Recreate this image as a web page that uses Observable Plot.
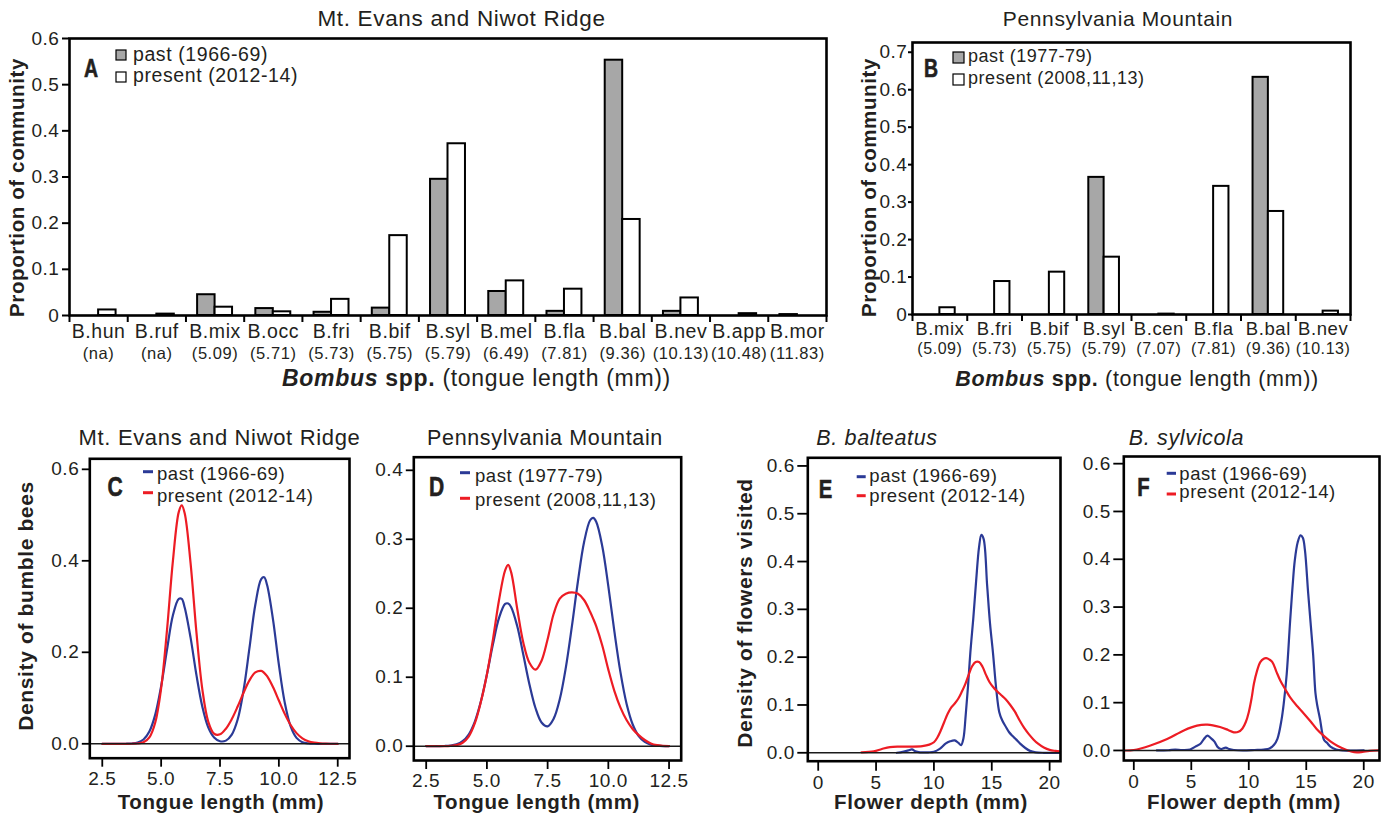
<!DOCTYPE html>
<html>
<head>
<meta charset="utf-8">
<script src="https://cdn.jsdelivr.net/npm/d3@7"></script>
<script src="https://cdn.jsdelivr.net/npm/@observablehq/plot@0.6"></script>
<style>
  html, body { margin: 0; padding: 0; background: #fff; }
  #wrap { position: relative; width: 1398px; height: 817px; overflow: hidden; background: #fff; }
</style>
</head>
<body>
<div id="wrap"></div>
<script>
// ---------------- DATA ----------------
// Panel A: Mt. Evans and Niwot Ridge
const catsA    = ["B.hun","B.ruf","B.mix","B.occ","B.fri","B.bif","B.syl","B.mel","B.fla","B.bal","B.nev","B.app","B.mor"];
const tongueA  = ["na","na","5.09","5.71","5.73","5.75","5.79","6.49","7.81","9.36","10.13","10.48","11.83"];
const pastA    = [0, 0, 0.045, 0.015, 0.007, 0.016, 0.295, 0.052, 0.009, 0.553, 0.009, 0, 0.002];
const presentA = [0.012, 0.003, 0.018, 0.008, 0.035, 0.173, 0.372, 0.075, 0.057, 0.208, 0.038, 0.004, 0];
const yTicksA  = [0, 0.1, 0.2, 0.3, 0.4, 0.5, 0.6];

// Panel B: Pennsylvania Mountain
const catsB    = ["B.mix","B.fri","B.bif","B.syl","B.cen","B.fla","B.bal","B.nev"];
const tongueB  = ["5.09","5.73","5.75","5.79","7.07","7.81","9.36","10.13"];
const pastB    = [0, 0, 0, 0.366, 0, 0, 0.633, 0];
const presentB = [0.018, 0.088, 0.113, 0.153, 0.001, 0.342, 0.275, 0.009];
const yTicksB  = [0, 0.1, 0.2, 0.3, 0.4, 0.5, 0.6, 0.7];

// Panels C and D: density of bumble bees vs tongue length (mm)
const tongueX  = [2.5,2.75,3,3.25,3.5,3.75,4,4.25,4.5,4.75,5,5.25,5.5,5.75,5.875,6,6.25,6.5,6.75,7,7.25,7.5,7.75,8,8.25,8.5,8.75,9,9.25,9.375,9.5,9.75,10,10.25,10.5,10.75,11,11.25,11.5,11.75,12,12.25,12.5];
const cPast    = [0,0,0,0,0.0001,0.0007,0.0027,0.0094,0.0268,0.0638,0.126,0.206,0.281,0.317,0.317,0.298,0.232,0.150,0.081,0.036,0.0137,0.0055,0.0069,0.020,0.053,0.117,0.209,0.304,0.360,0.364,0.347,0.272,0.173,0.090,0.038,0.013,0.0036,0.0008,0.0001,0,0,0,0];
const cPresent = [0,0,0,0,0,0.0001,0.0006,0.0033,0.0141,0.0467,0.1215,0.249,0.400,0.507,0.521,0.504,0.395,0.243,0.119,0.0486,0.022,0.0207,0.033,0.054,0.0814,0.1115,0.1385,0.156,0.1594,0.155,0.1477,0.124,0.0946,0.0654,0.041,0.0233,0.012,0.0056,0.0024,0.0009,0.0003,0.0001,0];
const dPast    = [0,0,0.0001,0.0003,0.0009,0.0027,0.0073,0.017,0.0354,0.0647,0.104,0.148,0.186,0.2062,0.207,0.2016,0.174,0.1325,0.090,0.0554,0.0345,0.0288,0.040,0.068,0.114,0.174,0.2395,0.2957,0.3276,0.331,0.3254,0.290,0.2318,0.166,0.107,0.0616,0.0319,0.0148,0.0062,0.0023,0.0008,0.0002,0.0001];
const dPresent = [0,0,0,0.0001,0.0005,0.0015,0.005,0.014,0.033,0.064,0.104,0.155,0.212,0.255,0.263,0.252,0.199,0.150,0.121,0.111,0.124,0.155,0.192,0.214,0.221,0.223,0.221,0.212,0.195,0.185,0.174,0.146,0.111,0.080,0.056,0.038,0.025,0.016,0.009,0.004,0.0015,0.0005,0.0002];
const tongueTicks = [2.5, 5, 7.5, 10, 12.5];

// Panel E: B. balteatus, density of flowers visited vs flower depth (mm)
const ePastX    = [6.8,7.3,7.8,8.1,8.4,8.8,9.5,10.0,10.5,11.0,11.4,11.8,12.1,12.35,12.55,12.75,12.95,13.15,13.4,13.65,13.9,14.1,14.3,14.6,14.85,15.1,15.4,15.65,15.9,16.2,16.5,16.8,17.1,17.5,17.9,18.3,18.8,19.5,20.9];
const ePastY    = [0,0.002,0.005,0.007,0.003,0.001,0.001,0.002,0.008,0.019,0.024,0.026,0.021,0.016,0.03,0.08,0.14,0.21,0.28,0.36,0.43,0.456,0.447,0.35,0.27,0.21,0.13,0.085,0.068,0.055,0.043,0.035,0.028,0.018,0.01,0.004,0.001,0,0];
const ePresentX = [3.74,4.8,5.5,6.2,7.0,8.0,9.0,9.6,10.0,10.3,10.6,10.9,11.2,11.5,11.8,12.1,12.4,12.7,13.0,13.3,13.6,13.9,14.2,14.5,14.8,15.1,15.4,15.8,16.2,16.6,17.0,17.4,17.8,18.2,18.6,19.0,19.5,20.0,20.5,20.9];
const ePresentY = [0.001,0.003,0.008,0.012,0.013,0.013,0.014,0.017,0.022,0.032,0.047,0.065,0.082,0.095,0.103,0.113,0.127,0.143,0.163,0.181,0.19,0.19,0.18,0.163,0.148,0.138,0.13,0.121,0.112,0.1,0.086,0.068,0.052,0.039,0.028,0.019,0.011,0.006,0.004,0.003];

// Panel F: B. sylvicola
const fPastX    = [2.0,3.0,3.6,4.2,4.9,5.35,5.8,6.1,6.4,6.7,7.0,7.3,7.6,8.0,8.3,8.7,9.5,10.5,11.3,11.8,12.2,12.5,12.84,13.05,13.3,13.6,13.8,14.0,14.25,14.5,14.7,14.88,15.17,15.4,15.6,15.8,15.95,16.2,16.4,16.55,16.8,17.1,17.6,18.2,20.0];
const fPastY    = [0,0.0005,0.002,0.001,0.002,0.008,0.014,0.024,0.031,0.026,0.019,0.007,0.003,0.006,0.003,0.001,0,0.001,0.002,0.004,0.012,0.025,0.063,0.1,0.16,0.272,0.34,0.397,0.435,0.45,0.445,0.42,0.328,0.26,0.2,0.12,0.095,0.065,0.035,0.022,0.016,0.008,0.002,0,0];
const fPresentX = [-0.85,0,1.45,2.9,4.35,5.5,6.4,7.5,8.2,8.7,9.1,9.45,9.75,10.0,10.25,10.45,10.7,11.0,11.3,11.52,11.8,12.05,12.4,12.75,13.2,13.6,14.2,14.8,15.4,15.9,16.5,17.1,17.7,18.3,18.9,19.4,19.9,20.5,21.3];
const fPresentY = [0,0.001,0.0105,0.024,0.042,0.052,0.054,0.049,0.043,0.038,0.039,0.046,0.06,0.08,0.11,0.14,0.165,0.185,0.192,0.193,0.19,0.185,0.165,0.146,0.127,0.111,0.093,0.077,0.06,0.045,0.031,0.019,0.01,0.003,-0.002,-0.004,-0.003,-0.001,0];
const depthTicks = [0, 5, 10, 15, 20];

// ---------------- STYLE ----------------
const FONT = '"Liberation Sans", Arial, Helvetica, sans-serif';
const INK = "#231f20";
const GRAY = "#a7a7a7";
const BLUE = "#2b3a96";
const RED = "#ed1c24";
const wrap = document.getElementById("wrap");

function place(node, left, top, w) {
  const d = document.createElement("div");
  d.style.cssText = `position:absolute;left:${left}px;top:${top}px;width:${w}px;`;
  d.appendChild(node);
  wrap.appendChild(d);
}

function barPanel(o) {
  const rows = o.cats.map((name, i) => ({i, name, tl: o.tongue[i], past: o.past[i], present: o.present[i]}));
  return Plot.plot({
    width: o.width, height: o.height,
    marginLeft: o.m[0], marginTop: o.m[1], marginRight: o.m[2], marginBottom: o.m[3],
    x: {domain: [0, o.cats.length]},
    y: {domain: [0, o.yMax]},
    style: {background: "transparent", fontFamily: FONT, fontSize: "19px", color: INK, letterSpacing: "0.03em", overflow: "visible"},
    marks: [
      Plot.rect(rows, {x1: d => d.i + o.slots[0], x2: d => d.i + o.slots[1], y1: 0, y2: "past", fill: GRAY, stroke: "#000", strokeWidth: 2}),
      Plot.rect(rows, {x1: d => d.i + o.slots[1], x2: d => d.i + o.slots[2], y1: 0, y2: "present", fill: "#fff", stroke: "#000", strokeWidth: 2}),
      Plot.frame({stroke: "#000", strokeWidth: 2.6}),
      Plot.axisY({ticks: o.yTicks, tickFormat: d => d === 0 ? "0" : d.toFixed(1), tickSize: o.ytick[0], tickPadding: o.ytick[1], stroke: "#000", strokeWidth: 2, label: null}),
      Plot.axisX({ticks: d3.range(o.cats.length + 1), tickFormat: () => "", tickSize: 7, stroke: "#000", strokeWidth: 2, label: null}),
      Plot.text(rows, {x: d => d.i + 0.5, text: "name", frameAnchor: "bottom", dy: o.labDy[0], fontSize: o.labSize[0], fill: INK}),
      Plot.text(rows, {x: d => d.i + 0.5, text: d => `(${d.tl})`, frameAnchor: "bottom", dy: o.labDy[1], fontSize: o.labSize[1], fill: INK})
    ]
  });
}

function densPanel(o) {
  const lines = o.series.map(s => Plot.line(s.x.map((x, i) => ({x, y: s.y[i]})),
    {x: "x", y: "y", stroke: s.color, strokeWidth: 2.2, curve: "catmull-rom"}));
  return Plot.plot({
    width: o.width, height: o.height,
    marginLeft: o.m[0], marginTop: o.m[1], marginRight: o.m[2], marginBottom: o.m[3],
    x: {domain: o.xDomain},
    y: {domain: o.yDomain},
    style: {background: "transparent", fontFamily: FONT, fontSize: "19px", color: INK, letterSpacing: "0.03em", overflow: "visible"},
    marks: [
      ...lines,
      Plot.ruleY([0], {stroke: "#1a1a1a", strokeWidth: 1.6}),
      Plot.frame({stroke: "#000", strokeWidth: 2.6}),
      Plot.axisY({ticks: o.yTicks, tickFormat: ".1f", tickSize: o.tick[0], tickPadding: 3, stroke: "#000", strokeWidth: 1.8, label: null}),
      Plot.axisX({ticks: o.xTicks, tickFormat: o.xFmt, tickSize: o.tick[1], tickPadding: 4, stroke: "#000", strokeWidth: 1.8, label: null})
    ]
  });
}

// ---------------- PANELS ----------------
place(barPanel({cats: catsA, tongue: tongueA, past: pastA, present: presentA, yMax: 0.6, yTicks: yTicksA,
  width: 840, height: 400, m: [69, 38, 14, 85], slots: [0.2, 0.5, 0.8], ytick: [7, 3], labDy: [22, 43], labSize: [19.5, 16.5]}), 0, 0, 840);

place(barPanel({cats: catsB, tongue: tongueB, past: pastB, present: presentB, yMax: 0.726, yTicks: yTicksB,
  width: 558, height: 400, m: [72, 42, 48, 86], slots: [0.22, 0.5, 0.78], ytick: [4, 1], labDy: [20, 39], labSize: [18.5, 16]}), 840, 0, 558);

place(densPanel({series: [{x: tongueX, y: cPast, color: BLUE}, {x: tongueX, y: cPresent, color: RED}],
  width: 370, height: 397, m: [89.3, 38.3, 21, 59.3], xDomain: [1.97, 13.0], yDomain: [-0.0315, 0.623],
  xTicks: tongueTicks, xFmt: ".1f", yTicks: [0, 0.2, 0.4, 0.6], tick: [7.5, 9]}), 0, 420, 370);

place(densPanel({series: [{x: tongueX, y: dPast, color: BLUE}, {x: tongueX, y: dPresent, color: RED}],
  width: 340, height: 397, m: [53.3, 36.7, 19.3, 57], xDomain: [1.99, 13.0], yDomain: [-0.0207, 0.419],
  xTicks: tongueTicks, xFmt: ".1f", yTicks: [0, 0.1, 0.2, 0.3, 0.4], tick: [7.5, 9]}), 360, 420, 340);

place(densPanel({series: [{x: ePastX, y: ePastY, color: BLUE}, {x: ePresentX, y: ePresentY, color: RED}],
  width: 370, height: 397, m: [107.3, 37.3, 10, 56.3], xDomain: [-0.9, 20.94], yDomain: [-0.0176, 0.617],
  xTicks: depthTicks, xFmt: "d", yTicks: [0, 0.1, 0.2, 0.3, 0.4, 0.5, 0.6], tick: [10, 10]}), 700, 420, 370);

place(densPanel({series: [{x: fPastX, y: fPastY, color: BLUE}, {x: fPresentX, y: fPresentY, color: RED}],
  width: 348, height: 397, m: [73.3, 36, 19, 57], xDomain: [-0.87, 21.37], yDomain: [-0.021, 0.615],
  xTicks: depthTicks, xFmt: "d", yTicks: [0, 0.1, 0.2, 0.3, 0.4, 0.5, 0.6], tick: [10, 10]}), 1050, 420, 348);

// ---------------- TEXT OVERLAY ----------------
const ov = d3.create("svg").attr("width", 1398).attr("height", 817)
  .style("position", "absolute").style("left", "0px").style("top", "0px").style("pointer-events", "none");
wrap.appendChild(ov.node());

function T(x, y, str, o = {}) {
  const t = ov.append("text").attr("x", x).attr("y", y)
    .attr("font-family", FONT).attr("font-size", o.size || 17)
    .attr("font-weight", o.weight || "normal").attr("font-style", o.style || "normal")
    .attr("text-anchor", o.anchor || "start").attr("fill", INK)
    .style("letter-spacing", o.ls || "0.03em");
  t.text(str);
  return t;
}
function R(x, y, str, size) {
  ov.append("text").attr("transform", `translate(${x},${y}) rotate(-90)`)
    .attr("font-family", FONT).attr("font-size", size).attr("font-weight", "bold")
    .attr("text-anchor", "middle").attr("dominant-baseline", "central").attr("fill", INK)
    .style("letter-spacing", "0.03em").text(str);
}
function letter(x, y, str, size) {
  ov.append("text").attr("transform", `translate(${x},${y}) scale(0.78,1)`)
    .attr("font-family", FONT).attr("font-size", size).attr("font-weight", "bold")
    .attr("text-anchor", "middle").attr("dominant-baseline", "central").attr("fill", INK)
    .style("stroke", INK).style("stroke-width", 0.6).text(str);
}
function bombus(x, y, size) {
  const t = ov.append("text").attr("x", x).attr("y", y).attr("font-family", FONT).attr("font-size", size)
    .attr("text-anchor", "middle").attr("fill", INK).style("letter-spacing", "0.03em");
  t.append("tspan").attr("font-weight", "bold").attr("font-style", "italic").text("Bombus");
  t.append("tspan").attr("font-weight", "bold").text(" spp.");
  t.append("tspan").text(" (tongue length (mm))");
}
function sq(x, y, s, fill) {
  ov.append("rect").attr("x", x).attr("y", y).attr("width", s).attr("height", s)
    .attr("fill", fill).attr("stroke", "#000").attr("stroke-width", 1.2);
}
function dash(x1, x2, y, color) {
  ov.append("line").attr("x1", x1).attr("x2", x2).attr("y1", y).attr("y2", y)
    .attr("stroke", color).attr("stroke-width", 3);
}

// titles
T(461.5, 26, "Mt. Evans and Niwot Ridge", {size: 22.5, anchor: "middle"});
T(1118, 26, "Pennsylvania Mountain", {size: 21, anchor: "middle"});
T(219.5, 445, "Mt. Evans and Niwot Ridge", {size: 22, anchor: "middle"});
T(545, 445, "Pennsylvania Mountain", {size: 21.5, anchor: "middle"});
T(877, 445, "B. balteatus", {size: 21.5, style: "italic", anchor: "middle"});
T(1186.5, 445, "B. sylvicola", {size: 21.5, style: "italic", anchor: "middle"});

// axis titles
R(16, 187.5, "Proportion of community", 20.5);
R(868, 187.5, "Proportion of community", 20.5);
R(25, 606, "Density of bumble bees", 21);
R(744, 613, "Density of flowers visited", 21);
bombus(476.5, 386, 23);
bombus(1137, 386, 21.5);
T(221, 809, "Tongue length (mm)", {size: 20.5, weight: "bold", anchor: "middle"});
T(536.7, 809, "Tongue length (mm)", {size: 20.5, weight: "bold", anchor: "middle"});
T(931, 809, "Flower depth (mm)", {size: 20.5, weight: "bold", anchor: "middle"});
T(1244, 809, "Flower depth (mm)", {size: 20.5, weight: "bold", anchor: "middle"});

// panel letters
letter(91, 68.5, "A", 25);
letter(931, 69, "B", 25);
letter(115, 487, "C", 27);
letter(436.5, 487, "D", 27);
letter(825.5, 489, "E", 26);
letter(1143.5, 487.5, "F", 26);

// legends
sq(116, 50, 10, GRAY); T(133, 60.5, "past (1966-69)", {size: 19.5});
sq(116, 72, 10, "#fff"); T(133, 82, "present (2012-14)", {size: 19.5});
sq(953, 52, 11, GRAY); T(968, 62, "past (1977-79)", {size: 18});
sq(953, 74, 11, "#fff"); T(968, 84, "present (2008,11,13)", {size: 18});

dash(143, 153, 471.7, BLUE); T(157, 480, "past (1966-69)", {size: 18.5});
dash(143, 153, 492.7, RED); T(157, 501.5, "present (2012-14)", {size: 18.5});
dash(460, 470, 472.7, BLUE); T(475, 481.5, "past (1977-79)", {size: 18.5});
dash(460, 470, 498.3, RED); T(475, 506, "present (2008,11,13)", {size: 18.5});
dash(856.7, 865.7, 476.7, BLUE); T(869.3, 481.5, "past (1966-69)", {size: 18.5});
dash(856.7, 865.7, 495.7, RED); T(869.3, 501.5, "present (2012-14)", {size: 18.5});
dash(1166.7, 1176, 473.3, BLUE); T(1179.3, 479.5, "past (1966-69)", {size: 18.5});
dash(1166.7, 1176, 494, RED); T(1179.3, 498, "present (2012-14)", {size: 18.5});
</script>
</body>
</html>
